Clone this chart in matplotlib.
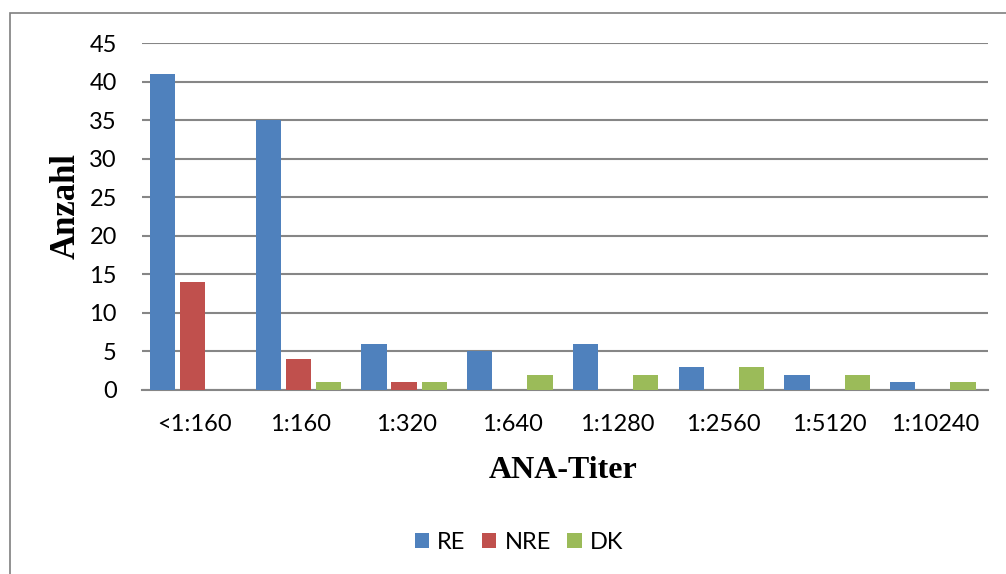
import numpy as np
import matplotlib.pyplot as plt
from matplotlib.patches import Rectangle

titers = ["<1:160", "1:160", "1:320", "1:640", "1:1280", "1:2560", "1:5120", "1:10240"]
re_vals = [41, 35, 6, 5, 6, 3, 2, 1]
nre_vals = [14, 4, 1, 0, 0, 0, 0, 0]
dk_vals = [0, 1, 1, 2, 2, 3, 2, 1]

colors = ["#4f81bd", "#c0504d", "#9bbb59"]
grid_col = "#868686"

fig = plt.figure(figsize=(10.06, 5.74), dpi=100)
ax = fig.add_axes([0.141, 0.3206, 0.841, 0.6044])

x = np.arange(len(titers))
w = 0.24
off = 0.285
for vals, dx, c, lab in [(re_vals, -off, colors[0], "RE"),
                         (nre_vals, 0, colors[1], "NRE"),
                         (dk_vals, off, colors[2], "DK")]:
    ax.bar(x + dx - 0.02, vals, w, color=c, label=lab, zorder=3)

ax.set_xlim(-0.5, len(titers) - 0.5)
ax.set_ylim(0, 45)
ax.set_yticks(range(0, 46, 5))
ax.set_xticks(x)
ax.set_xticklabels(titers)
ax.grid(axis="y", color=grid_col, linewidth=1.5, zorder=0)
for s in ["top", "right", "left"]:
    ax.spines[s].set_visible(False)
ax.spines["bottom"].set_color(grid_col)
ax.spines["bottom"].set_linewidth(1.5)
ax.tick_params(axis="y", length=0, labelsize=17, pad=18)
ax.tick_params(axis="x", length=0, labelsize=17, pad=17)
for t in ax.get_xticklabels() + ax.get_yticklabels():
    t.set_family("Lato")

ax.set_ylabel("Anzahl", family="Liberation Serif", fontweight="bold", fontsize=25)
ax.yaxis.set_label_coords(-0.07, 0.53)
ax.set_xlabel("ANA-Titer", family="Liberation Serif", fontweight="bold", fontsize=23)
ax.xaxis.set_label_coords(0.498, -0.19)

leg = fig.legend(loc="center", bbox_to_anchor=(0.516, 0.055), ncol=3, frameon=False,
                 prop={"family": "Lato", "size": 17}, handlelength=0.6, handleheight=0.6,
                 columnspacing=0.7, handletextpad=0.35)

# outer chart frame
fig.patches.append(Rectangle((10 / 1006, -0.1), 1.2, 1 - 13 / 574 + 0.1,
                             transform=fig.transFigure, fill=False,
                             edgecolor="#7f7f7f", linewidth=1.2))

fig.savefig("out.png", dpi=100)
